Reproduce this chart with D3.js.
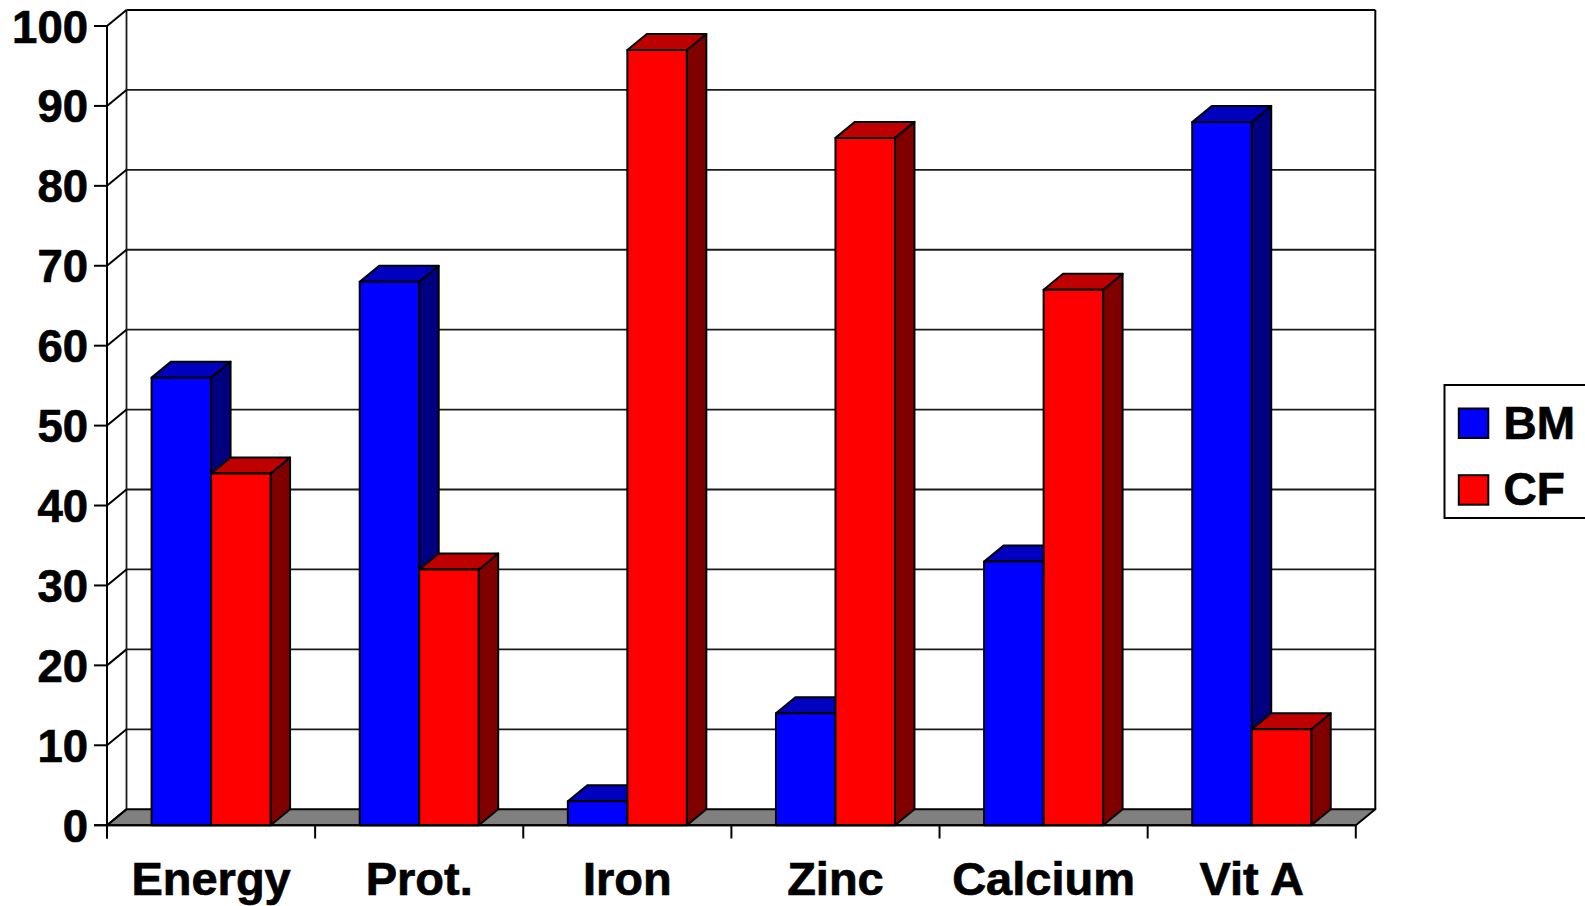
<!DOCTYPE html>
<html><head><meta charset="utf-8">
<script src="https://cdn.jsdelivr.net/npm/d3@7/dist/d3.min.js"></script>
<style>html,body{margin:0;padding:0;background:#fff;overflow:hidden}svg{display:block}
text{font-family:"Liberation Sans",Arial,sans-serif;font-weight:700;fill:#000;stroke:#000;stroke-width:0.7px}</style>
</head><body><svg id="c" width="1585" height="906"></svg>
<script>
const categories=["Energy","Prot.","Iron","Zinc","Calcium","Vit A"];
const seriesNames=["BM","CF"];
const bmValues=[56,68,3,14,33,88];
const cfValues=[44,32,97,86,67,12];
const yTicks=[0,10,20,30,40,50,60,70,80,90,100];
const frontColors=["#0000ff","#ff0000"];
const topColors=["#0000bf","#bf0000"];
const sideColors=["#000080","#800000"];

const svg=d3.select("#c");
const dx=19.5,dy=16;
const x=d3.scaleBand().domain(categories).range([107,1355.8]).paddingInner(0).paddingOuter(0);
const y=d3.scaleLinear().domain([0,100]).range([825.2,26]);
const sw=2;
const line=(a,b,c,d,w=sw,col="#000")=>svg.append("line").attr("x1",a).attr("y1",b).attr("x2",c).attr("y2",d).attr("stroke",col).attr("stroke-width",w);
const [x0,x1]=x.range();

// back wall gridlines
yTicks.slice(1,-1).forEach(t=>line(x0+dx,y(t)-dy,x1+dx,y(t)-dy,1.8,"#1a1a1a"));
// floor
svg.append("polygon").attr("points",[[x0,y(0)],[x0+dx,y(0)-dy],[x1+dx,y(0)-dy],[x1,y(0)]].join(" "))
  .attr("fill","#808080").attr("stroke","#000").attr("stroke-width",sw).attr("stroke-linejoin","round");
// walls
line(x0+dx,y(100)-dy,x1+dx,y(100)-dy);
line(x0+dx,y(100)-dy,x0+dx,y(0)-dy,1.8,"#1a1a1a");
line(x1+dx,y(100)-dy,x1+dx,y(0)-dy);
// left side wall: axis, ticks, diagonals
line(x0,y(100),x0,y(0)+13.3);
yTicks.forEach(t=>{
  line(x0-13,y(t),x0,y(t));
  line(x0,y(t),x0+dx,y(t)-dy);
});
// category ticks
d3.range(categories.length+1).forEach(i=>{
  const tx=x0+i*x.bandwidth();
  line(tx,y(0),tx,y(0)+13.3);
});
// bars
const barW=59.5;
const values=[bmValues,cfValues];
categories.forEach((c,i)=>{
  const cx=x(c)+x.bandwidth()/2;
  values.forEach((vals,s)=>{
    const l=cx+(s-1)*barW,r=l+barW,t=y(vals[i]),b=y(0);
    const g=svg.append("g").attr("stroke","#000").attr("stroke-width",sw).attr("stroke-linejoin","round");
    g.append("polygon").attr("points",[[r,t],[r+dx,t-dy],[r+dx,b-dy],[r,b]].join(" ")).attr("fill",sideColors[s]);
    g.append("polygon").attr("points",[[l,t],[l+dx,t-dy],[r+dx,t-dy],[r,t]].join(" ")).attr("fill",topColors[s]);
    g.append("rect").attr("x",l).attr("y",t).attr("width",barW).attr("height",b-t).attr("fill",frontColors[s]);
  });
});
// front baseline
line(x0-13,y(0),x1,y(0));
// labels
yTicks.forEach(t=>svg.append("text").attr("x",88).attr("y",y(t)+16.5).attr("text-anchor","end").attr("font-size",45.5).text(t));
categories.forEach(c=>svg.append("text").attr("x",x(c)+x.bandwidth()/2).attr("y",895).attr("text-anchor","middle").attr("font-size",47).text(c));
// legend
svg.append("rect").attr("x",1444.5).attr("y",385).attr("width",160).attr("height",133).attr("fill","#fff").attr("stroke","#000").attr("stroke-width",sw);
seriesNames.forEach((n,i)=>{
  const top=408.5+i*66.7;
  svg.append("rect").attr("x",1458.8).attr("y",top).attr("width",29.5).attr("height",29.5).attr("fill",frontColors[i]).attr("stroke","#000").attr("stroke-width",sw);
  svg.append("text").attr("x",1503.5).attr("y",438.5+i*66.7).attr("font-size",46).text(n);
});
</script></body></html>
